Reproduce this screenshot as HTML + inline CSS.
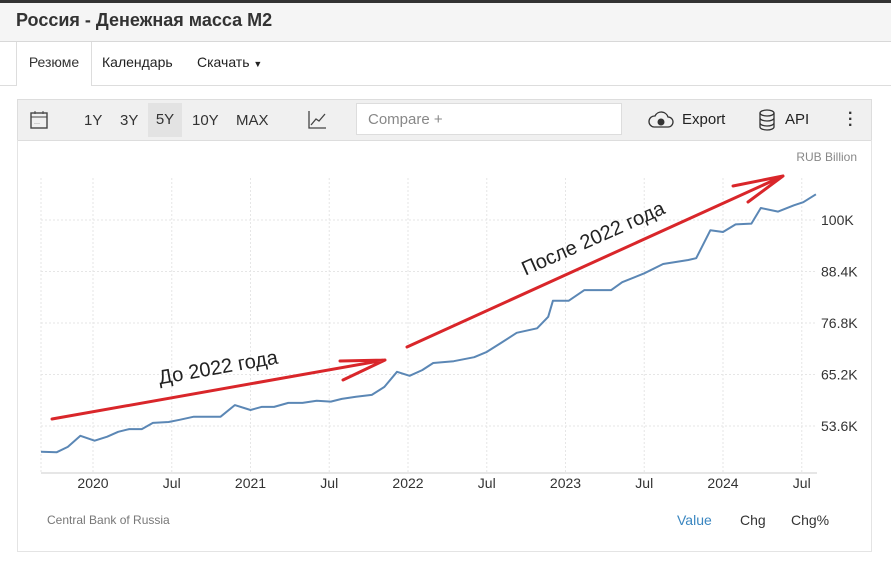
<!DOCTYPE html>
<html><head><meta charset="utf-8">
<style>
body{margin:0;width:891px;height:565px;overflow:hidden;background:#fff;font-family:"Liberation Sans","DejaVu Sans",sans-serif;position:relative}
.abs{position:absolute}
</style></head><body>
<div class="abs" style="left:0;top:0;width:891px;height:3px;background:#333"></div>
<div class="abs" style="left:0;top:3px;width:891px;height:38px;background:#f5f5f5;border-bottom:1px solid #d8d8d8"></div>
<div class="abs" style="left:16px;top:10px;font-size:18px;font-weight:bold;color:#333">Россия - Денежная масса M2</div>
<div class="abs" style="left:0;top:85px;width:891px;height:1px;background:#ddd"></div>
<div class="abs" style="left:16px;top:42px;width:74px;height:44px;background:#fff;border-left:1px solid #ddd;border-right:1px solid #ddd;font-size:14px;color:#333;line-height:40px;text-align:center">Резюме</div>
<div class="abs" style="left:102px;top:54px;font-size:14px;color:#222">Календарь</div>
<div class="abs" style="left:197px;top:54px;font-size:14px;color:#222">Скачать <span style="font-size:9px">▼</span></div>
<div class="abs" style="left:17px;top:99px;width:853px;height:40px;background:#f0f0f0;border:1px solid #ddd"></div>
<svg class="abs" style="left:30px;top:110px" width="18" height="20"><rect x="1" y="3" width="16" height="15" fill="none" stroke="#444" stroke-width="1.4"/><line x1="1" y1="7" x2="17" y2="7" stroke="#444"/><line x1="5" y1="1" x2="5" y2="4" stroke="#444"/><line x1="13" y1="1" x2="13" y2="4" stroke="#444"/><text x="4" y="15" font-size="6" fill="#444">···</text></svg>
<div class="abs" style="left:84px;top:112px;font-size:15px;color:#333">1Y</div>
<div class="abs" style="left:120px;top:112px;font-size:15px;color:#333">3Y</div>
<div class="abs" style="left:148px;top:103px;width:34px;height:34px;background:#e3e3e3;font-size:15px;color:#333;line-height:34px;text-align:center">5Y</div>
<div class="abs" style="left:192px;top:112px;font-size:15px;color:#333">10Y</div>
<div class="abs" style="left:236px;top:112px;font-size:15px;color:#333">MAX</div>
<svg class="abs" style="left:307px;top:110px" width="20" height="20"><path d="M2 1V18H19" fill="none" stroke="#444" stroke-width="1.3"/><path d="M4 15L9 9L12 11L18 4" fill="none" stroke="#444" stroke-width="1.3"/></svg>
<div class="abs" style="left:356px;top:103px;width:266px;height:32px;background:#fff;border:1px solid #ddd;font-size:15px;color:#888;line-height:32px;padding-left:11px;box-sizing:border-box">Compare +</div>
<svg class="abs" style="left:648px;top:111px" width="26" height="18"><path d="M6 16H20A5 5 0 0 0 20 6A7 7 0 0 0 7 5A5 5 0 0 0 6 16Z" fill="none" stroke="#333" stroke-width="1.3"/><circle cx="13" cy="11" r="3.5" fill="#333"/></svg>
<div class="abs" style="left:682px;top:111px;font-size:15px;color:#222">Export</div>
<svg class="abs" style="left:758px;top:109px" width="18" height="22"><ellipse cx="9" cy="4" rx="7" ry="3" fill="none" stroke="#333" stroke-width="1.3"/><path d="M2 4V18A7 3 0 0 0 16 18V4M2 9A7 3 0 0 0 16 9M2 14A7 3 0 0 0 16 14" fill="none" stroke="#333" stroke-width="1.3"/></svg>
<div class="abs" style="left:785px;top:111px;font-size:15px;color:#222">API</div>
<div class="abs" style="left:848px;top:111px;font-size:16px;font-weight:bold;color:#333;line-height:6px;width:4px">·<br>·<br>·</div>
<div class="abs" style="left:17px;top:140px;width:853px;height:411px;border:1px solid #e4e4e4;border-top:none"></div>
<svg class="abs" id="chart" style="left:0;top:0" width="891" height="565"></svg>
<div class="abs" style="right:34px;top:150px;font-size:12px;color:#888">RUB Billion</div>
<div class="abs" style="left:47px;top:513px;font-size:12px;color:#777">Central Bank of Russia</div>
<div class="abs" style="left:677px;top:512px;font-size:14px;color:#3a86c0">Value</div>
<div class="abs" style="left:740px;top:512px;font-size:14px;color:#333">Chg</div>
<div class="abs" style="left:791px;top:512px;font-size:14px;color:#333">Chg%</div>
<script>
const dates=[2019.67,2019.77,2019.84,2019.92,2020.01,2020.09,2020.16,2020.23,2020.31,2020.38,2020.48,2020.55,2020.64,2020.81,2020.9,2021.0,2021.07,2021.15,2021.24,2021.33,2021.42,2021.51,2021.58,2021.67,2021.77,2021.85,2021.93,2022.01,2022.09,2022.16,2022.29,2022.42,2022.50,2022.59,2022.69,2022.82,2022.89,2022.92,2023.02,2023.12,2023.29,2023.36,2023.5,2023.62,2023.78,2023.83,2023.92,2024.0,2024.08,2024.18,2024.24,2024.35,2024.45,2024.51,2024.59];
const values=[47.8,47.7,48.9,51.4,50.3,51.2,52.3,52.9,52.9,54.3,54.5,55.0,55.7,55.7,58.3,57.2,57.9,57.9,58.8,58.8,59.3,59.1,59.7,60.2,60.6,62.4,65.8,64.9,66.2,67.8,68.2,69.1,70.3,72.3,74.6,75.6,78.2,81.8,81.8,84.2,84.2,86.0,88.0,90.1,91.0,91.4,97.7,97.3,99.0,99.2,102.7,101.9,103.3,104.0,105.8];
const yTicks=[53.6,65.2,76.8,88.4,100];
const yTickLabels=["53.6K","65.2K","76.8K","88.4K","100K"];
const xTicks=[2020,2020.5,2021,2021.5,2022,2022.5,2023,2023.5,2024,2024.5];
const xTickLabels=["2020","Jul","2021","Jul","2022","Jul","2023","Jul","2024","Jul"];
const X=t=>93+(t-2020)*157.5, Y=v=>220+(100-v)*51.5/11.6;
const L=41,R=817,T=178,B=473;
const s=document.getElementById('chart'),NS='http://www.w3.org/2000/svg';
function mk(tag,a){const e=document.createElementNS(NS,tag);for(const k in a)e.setAttribute(k,a[k]);s.appendChild(e);return e;}
xTicks.forEach((t,i)=>{
 const g=mk('line',{x1:X(t),x2:X(t),y1:T,y2:B,stroke:'#e6e6e6','stroke-dasharray':'2,2'});
 
 
 const tx=mk('text',{x:X(t),y:488,'text-anchor':'middle','font-size':'14',fill:'#333'});
 tx.textContent=xTickLabels[i];
 
 
});
yTicks.forEach((v,i)=>{
 const g=mk('line',{x1:L,x2:R,y1:Y(v),y2:Y(v),stroke:'#e6e6e6','stroke-dasharray':'2,2'});
 
 
 const tx=mk('text',{x:821,y:Y(v)+5,'font-size':'14',fill:'#333'});
 tx.textContent=yTickLabels[i];
 
 
});
const bg=mk('line',{x1:L,x2:L,y1:T,y2:B,stroke:'#e6e6e6','stroke-dasharray':'2,2'});


const ax=mk('line',{x1:L,x2:R,y1:B,y2:B,stroke:'#ccc'});


const p=mk('path',{d:dates.map((t,i)=>(i?'L':'M')+X(t).toFixed(1)+' '+Y(values[i]).toFixed(1)).join(''),fill:'none',stroke:'#5b87b5','stroke-width':'2','stroke-linejoin':'round'});


const a1=mk('path',{d:'M52 419L385 360M340 361L385 360M343 380L385 360',fill:'none',stroke:'#d9262a','stroke-width':'3','stroke-linecap':'round'});


const a2=mk('path',{d:'M407 347L783 176M733 186L783 176M748 202L783 176',fill:'none',stroke:'#d9262a','stroke-width':'3','stroke-linecap':'round'});


const t1=mk('text',{x:218,y:374,'text-anchor':'middle','font-size':'20',fill:'#222',transform:'rotate(-10 218 367)'});
t1.textContent='До 2022 года';


const t2=mk('text',{x:593,y:245,'text-anchor':'middle','font-size':'20',fill:'#222',transform:'rotate(-24 593 238)'});
t2.textContent='После 2022 года';


</script>
</body></html>
